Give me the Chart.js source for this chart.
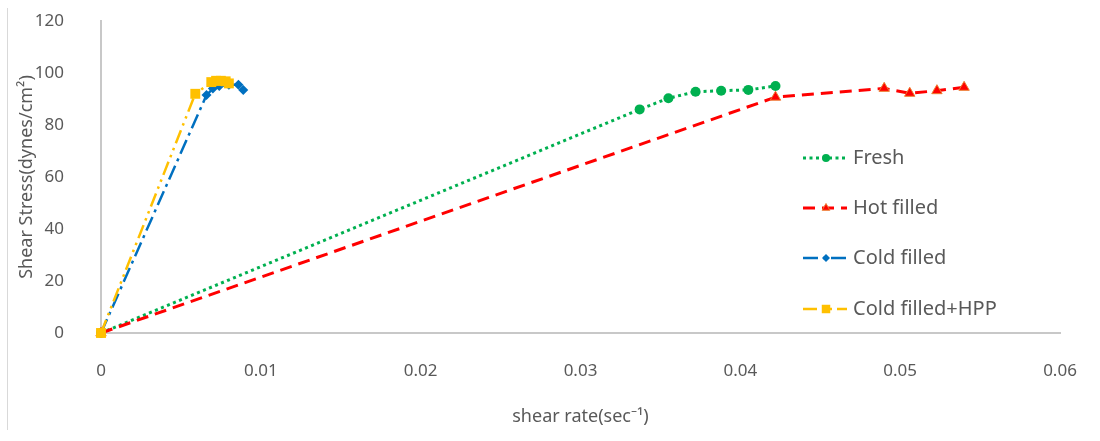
<!DOCTYPE html>
<html>
<head>
<meta charset="utf-8">
<script src="https://cdn.jsdelivr.net/npm/chart.js@4.4.1/dist/chart.umd.min.js"></script>
<style>
  html, body { margin: 0; padding: 0; background: #fff; }
  #wrap { width: 1100px; height: 441px; position: relative; }
</style>
</head>
<body>
<div id="wrap"><canvas id="chart" width="1100" height="441"></canvas></div>
<script>
// data
const seriesNames = ["Fresh", "Hot filled", "Cold filled", "Cold filled+HPP"];

const freshX = [0, 0.0337, 0.0355, 0.0372, 0.0388, 0.0405, 0.0422];
const freshY = [0, 86, 90.3, 92.8, 93.2, 93.5, 95];

const hotX = [0, 0.0422, 0.0490, 0.0506, 0.0523, 0.0540];
const hotY = [0, 90.7, 94.1, 92.2, 93.2, 94.5];

const coldX = [0, 0.0066, 0.0070, 0.0074, 0.0080, 0.0086, 0.0089];
const coldY = [0, 91.5, 94, 95, 95.5, 95.5, 93.5];

const hppX = [0, 0.0059, 0.0069, 0.0072, 0.0075, 0.0078, 0.0080];
const hppY = [0, 92, 96.5, 97, 97, 96.8, 96];

const xTickLabels = ["0", "0.01", "0.02", "0.03", "0.04", "0.05", "0.06"];
const yTickLabels = ["0", "20", "40", "60", "80", "100", "120"];

const FONT = "'Noto Sans', 'Open Sans', sans-serif";
const TEXT = "#595959";

function pts(xs, ys) {
    return xs.map((x, i) => ({ x: x, y: ys[i] }));
}

const datasets = [
    {
        label: seriesNames[0],
        data: pts(freshX, freshY),
        borderColor: "#00B050",
        backgroundColor: "#00B050",
        borderWidth: 3,
        borderDash: [3, 3.5],
        pointStyle: "circle",
        pointRadius: 5,
        pointBorderWidth: 0,
        order: 4
    },
    {
        label: seriesNames[1],
        data: pts(hotX, hotY),
        borderColor: "#FF0000",
        backgroundColor: "#FF0000",
        pointBorderColor: "#ED7D31",
        borderWidth: 3,
        borderDash: [12, 7],
        pointStyle: "triangle",
        pointRadius: 6,
        pointBorderWidth: 1,
        order: 3
    },
    {
        label: seriesNames[2],
        data: pts(coldX, coldY),
        borderColor: "#0070C0",
        backgroundColor: "#0070C0",
        borderWidth: 2.5,
        borderDash: [15, 5, 3, 5],
        pointStyle: "rectRot",
        pointRadius: 5,
        pointBorderWidth: 0,
        order: 2
    },
    {
        label: seriesNames[3],
        data: pts(hppX, hppY),
        borderColor: "#FFC000",
        backgroundColor: "#FFC000",
        borderWidth: 2.5,
        borderDash: [14, 5, 2.5, 5, 2.5, 5],
        pointStyle: "rect",
        pointRadius: 7,
        pointBorderWidth: 0,
        order: 1
    }
];

// legend on the right, drawn by hand
const legendPlugin = {
    id: "sideLegend",
    afterDraw(chart) {
        const ctx = chart.ctx;
        const rows = [158, 208, 258, 309];
        datasets.forEach((ds, i) => {
            const y = rows[i];
            ctx.save();
            ctx.strokeStyle = ds.borderColor;
            ctx.lineWidth = ds.borderWidth;
            ctx.setLineDash(ds.borderDash);
            ctx.beginPath();
            ctx.moveTo(803, y);
            ctx.lineTo(847, y);
            ctx.stroke();
            ctx.restore();

            ctx.save();
            ctx.fillStyle = ds.backgroundColor;
            ctx.strokeStyle = ds.pointBorderColor || ds.borderColor;
            ctx.lineWidth = ds.pointBorderWidth;
            Chart.helpers.drawPoint(ctx, {
                pointStyle: ds.pointStyle,
                radius: ds.pointStyle === "triangle" ? 4.5 : ds.pointRadius - 1,
                borderWidth: ds.pointBorderWidth
            }, 826, y);
            ctx.fillStyle = TEXT;
            ctx.font = "20px " + FONT;
            ctx.textBaseline = "middle";
            ctx.textAlign = "left";
            ctx.fillText(ds.label, 853, y);
            ctx.restore();
        });

        // faint frame edge on the left
        ctx.save();
        ctx.strokeStyle = "#D9D9D9";
        ctx.lineWidth = 1;
        ctx.beginPath();
        ctx.moveTo(7.5, 8);
        ctx.lineTo(7.5, 430);
        ctx.stroke();
        ctx.restore();
    }
};

new Chart(document.getElementById("chart"), {
    type: "scatter",
    data: { datasets: datasets.map(d => Object.assign({ showLine: true, clip: false }, d)) },
    options: {
        responsive: false,
        animation: false,
        layout: { padding: 0 },
        plugins: {
            legend: { display: false },
            tooltip: { enabled: false }
        },
        scales: {
            x: {
                type: "linear",
                min: 0,
                max: 0.06,
                grid: { display: false },
                border: { display: true, color: "#C8C8C8", width: 2 },
                ticks: {
                    stepSize: 0.01,
                    padding: 20,
                    color: TEXT,
                    font: { size: 17, family: FONT },
                    callback: (v, i) => xTickLabels[i]
                },
                title: {
                    display: true,
                    text: "shear rate(sec\u207B\u00B9)",
                    color: TEXT,
                    font: { size: 18, family: FONT },
                    padding: { top: 0, bottom: 13 }
                },
                afterFit(scale) {
                    scale.height = 108;
                    scale.paddingLeft = 0;
                    scale.paddingRight = 40;
                }
            },
            y: {
                type: "linear",
                min: 0,
                max: 120,
                grid: { display: false },
                border: { display: true, color: "#C8C8C8", width: 2 },
                ticks: {
                    stepSize: 20,
                    padding: 29,
                    color: TEXT,
                    font: { size: 17, family: FONT },
                    callback: (v, i) => yTickLabels[i]
                },
                title: {
                    display: true,
                    text: "Shear Stress(dynes/cm\u00B2)",
                    color: TEXT,
                    font: { size: 18, family: FONT },
                    padding: { top: 16, bottom: 0 }
                },
                afterFit(scale) {
                    scale.width = 101;
                    scale.paddingTop = 21;
                    scale.paddingBottom = 0;
                }
            }
        }
    },
    plugins: [legendPlugin]
});
</script>
</body>
</html>
